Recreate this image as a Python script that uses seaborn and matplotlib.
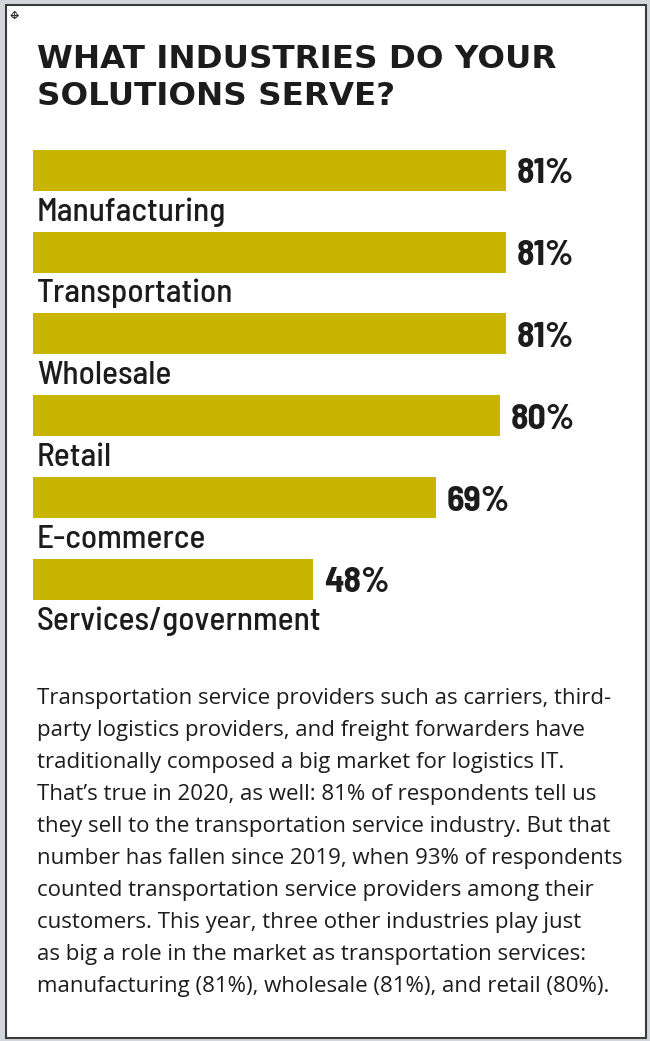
import matplotlib
matplotlib.use("Agg")
import matplotlib.pyplot as plt
from matplotlib.patches import Rectangle
import pandas as pd
import seaborn as sns

# ---- data -------------------------------------------------------------
industries = ["Manufacturing", "Transportation", "Wholesale", "Retail",
              "E-commerce", "Services/government"]
shares = [81, 81, 81, 80, 69, 48]
value_labels = ["81%", "81%", "81%", "80%", "69%", "48%"]

title_lines = ["WHAT INDUSTRIES DO YOUR", "SOLUTIONS SERVE?"]
body_lines = [
    "Transportation service providers such as carriers, third-",
    "party logistics providers, and freight forwarders have",
    "traditionally composed a big market for logistics IT.",
    "That\u2019s true in 2020, as well: 81% of respondents tell us",
    "they sell to the transportation service industry. But that",
    "number has fallen since 2019, when 93% of respondents",
    "counted transportation service providers among their",
    "customers. This year, three other industries play just",
    "as big a role in the market as transportation services:",
    "manufacturing (81%), wholesale (81%), and retail (80%).",
]

# ---- style ------------------------------------------------------------
GOLD = "#C7B500"
INK = "#1c1c1c"
FRAME_BG = "#d3d6da"
CONDENSED = ["Barlow Semi Condensed", "Barlow Condensed", "DejaVu Sans"]
BODY = ["Open Sans", "DejaVu Sans"]

sns.set_theme(style="white")
plt.rcParams["font.family"] = ["DejaVu Sans"]

W, H = 650, 1041
fig = plt.figure(figsize=(W / 100, H / 100), dpi=100, facecolor=FRAME_BG)


def fx(px):
    return px / W


def fy(py):
    return 1 - py / H


# white page with a dark frame, kept behind everything else
fig.patches.append(Rectangle((fx(6), fy(1038)), fx(646) - fx(6), fy(5) - fy(1038),
                             transform=fig.transFigure, facecolor="white",
                             edgecolor="#3a3a3a", linewidth=1.5, zorder=-10))

# small move handle in the corner
for glyph in ("\u2194", "\u2195"):
    fig.text(fx(14), fy(16), glyph, ha="center", va="center", fontsize=8,
             color="#222222")

# title
for k, line in enumerate(title_lines):
    fig.text(fx(37), fy(67.7 + 37.3 * k), line, fontsize=23.4,
             fontweight="bold", va="baseline", color=INK)

# ---- bar chart --------------------------------------------------------
df = pd.DataFrame({"industry": industries, "share": shares})
ax = fig.add_axes([fx(32.7), fy(620.2), 584 / W, 490.8 / H], zorder=5)
ax.set_facecolor("none")
sns.barplot(data=df, x="share", y="industry", orient="h", color=GOLD,
            saturation=1, width=0.5, linewidth=0, ax=ax)
ax.set_xlim(0, 100)
ax.set_ylim(5.5, -0.5)
ax.axis("off")

for i, (name, val, lab) in enumerate(zip(industries, shares, value_labels)):
    ax.text(0.68, i + 0.616, name, family=CONDENSED, fontweight=500,
            fontsize=24, va="baseline", ha="left", color=INK)
    ax.text(val + 1.88, i + 0.159, lab, family=CONDENSED,
            fontweight="bold", fontsize=25.7, va="baseline", ha="left",
            color=INK)

# ---- body copy --------------------------------------------------------
for j, line in enumerate(body_lines):
    fig.text(fx(36.7), fy(704.3 + 32.0 * j), line, family=BODY,
             fontsize=16.0, va="baseline", ha="left", color=INK)

fig.savefig("out.png", dpi=100, facecolor=fig.get_facecolor())
